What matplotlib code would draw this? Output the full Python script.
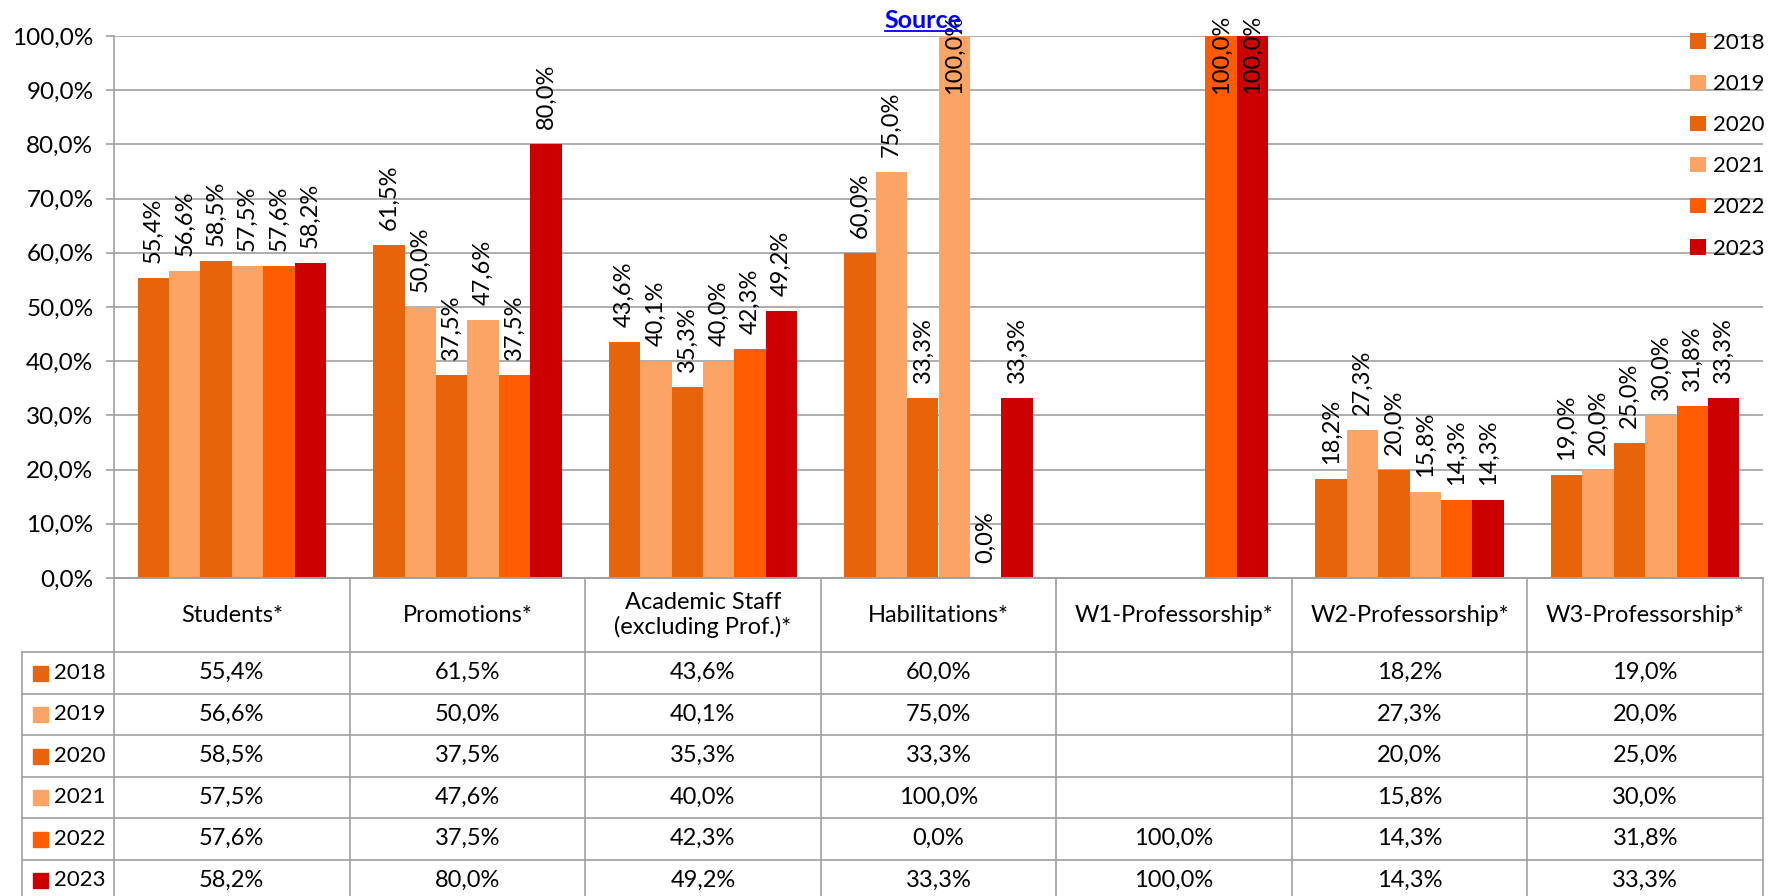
import numpy as np
import matplotlib
matplotlib.use('Agg')
import matplotlib.pyplot as plt
from matplotlib.patches import Patch
from matplotlib.lines import Line2D

plt.rcParams['font.family'] = ['Lato', 'DejaVu Sans']

# ---------------- data ----------------
categories = ['Students*', 'Promotions*', 'Academic Staff\n(excluding Prof.)*',
              'Habilitations*', 'W1-Professorship*', 'W2-Professorship*',
              'W3-Professorship*']
years = ['2018', '2019', '2020', '2021', '2022', '2023']
nan = np.nan
v2018 = [55.4, 61.5, 43.6, 60.0, nan, 18.2, 19.0]
v2019 = [56.6, 50.0, 40.1, 75.0, nan, 27.3, 20.0]
v2020 = [58.5, 37.5, 35.3, 33.3, nan, 20.0, 25.0]
v2021 = [57.5, 47.6, 40.0, 100.0, nan, 15.8, 30.0]
v2022 = [57.6, 37.5, 42.3, 0.0, 100.0, 14.3, 31.8]
v2023 = [58.2, 80.0, 49.2, 33.3, 100.0, 14.3, 33.3]
series = [v2018, v2019, v2020, v2021, v2022, v2023]
colors = ['#E8640A', '#FCA466', '#E8640A', '#FCA466', '#FF5B00', '#CC0000']
yticks = [0, 10, 20, 30, 40, 50, 60, 70, 80, 90, 100]


def fmt(v):
    return f"{v:.1f}".replace('.', ',') + '%'


# ---------------- layout ----------------
W, H = 1771, 896
L, R, T, B = 114, 1763, 36, 578
FS = 17          # texts with % or letters
FSY = 16         # year-only texts
GRID = '#A0A0A0'
fig = plt.figure(figsize=(W / 100, H / 100), dpi=100)
ax = fig.add_axes([L / W, 1 - B / H, (R - L) / W, (B - T) / H])

n_cat = len(categories)
n_ser = len(series)
x = np.arange(n_cat)
bw = 1 / (n_ser + 1.5)

for j, (vals, c) in enumerate(zip(series, colors)):
    xs = x + (j - (n_ser - 1) / 2) * bw
    ax.bar(xs, vals, width=bw, color=c, linewidth=0, zorder=2)
    for xi, v in zip(xs, vals):
        if np.isnan(v):
            continue
        if v >= 100:
            ax.annotate(fmt(v), (xi, v), xytext=(0, -13), textcoords='offset points',
                        rotation=90, ha='center', va='center', fontsize=FS,
                        annotation_clip=False, zorder=3)
        else:
            ax.annotate(fmt(v), (xi, v), xytext=(0, 10.8), textcoords='offset points',
                        rotation=90, ha='center', va='bottom', fontsize=FS,
                        annotation_clip=False, zorder=3)

ax.set_xlim(-0.5, n_cat - 0.5)
ax.set_ylim(0, 100)
ax.set_yticks(yticks)
ax.set_yticklabels([fmt(t) for t in yticks], fontsize=17.5)
ax.set_xticks([])
ax.tick_params(axis='y', direction='out', length=5.8, width=1.2, color=GRID, pad=9)
ax.yaxis.grid(True, color=GRID, linewidth=1.2, zorder=0)
ax.set_axisbelow(True)
for s in ['top', 'right']:
    ax.spines[s].set_visible(False)
for s in ['left', 'bottom']:
    ax.spines[s].set_color(GRID)
    ax.spines[s].set_linewidth(1.2)

# legend
handles = [Patch(facecolor=c, edgecolor='none', label=y) for c, y in zip(colors, years)]
ax.legend(handles=handles, loc='upper left', bbox_to_anchor=(1690 / W, 1 - 33 / H),
          bbox_transform=fig.transFigure, frameon=False, fontsize=FSY,
          handlelength=0.7, handleheight=0.7, handletextpad=0.35,
          labelspacing=0.95, borderpad=0, borderaxespad=0)

# ---------------- data table ----------------
tax = fig.add_axes([L / W, 0, (R - L) / W, (H - B) / H])
row_h = 41.5
hdr = 74 / row_h
tax.set_xlim(-0.5, n_cat - 0.5)
tax.set_ylim((H - B) / row_h, 0)
tax.axis('off')
cat_w = (R - L) / n_cat
xl = -0.5 + (22 - L) / cat_w
ybot = (H - B) / row_h + 0.5

lkw = dict(color=GRID, linewidth=1.2, clip_on=False)
for b in np.arange(n_cat + 1) - 0.5:
    tax.plot([b, b], [0, ybot], **lkw)
tax.plot([xl, xl], [hdr, ybot], **lkw)
tax.plot([-0.5, n_cat - 0.5], [0, 0], **lkw)
for k in range(n_ser):
    tax.plot([xl, n_cat - 0.5], [hdr + k, hdr + k], **lkw)

for i, cat in enumerate(categories):
    tax.text(i, hdr / 2, cat, ha='center', va='center', fontsize=FS, linespacing=1.2)

sq_x = xl + (39.5 - 22) / cat_w
lab_x = xl + (54 - 22) / cat_w
for k, (yr, vals, c) in enumerate(zip(years, series, colors)):
    yc = hdr + k + 0.5
    tax.plot([sq_x], [yc], marker='s', markersize=10.8, color=c, linestyle='none',
             clip_on=False)
    tax.text(lab_x, yc, yr, ha='left', va='center', fontsize=FSY)
    for i, v in enumerate(vals):
        if not np.isnan(v):
            tax.text(i, yc, fmt(v), ha='center', va='center', fontsize=FS)

# ---------------- "Source" link ----------------
src = fig.text(923 / W, 1 - 28 / H, 'Source', ha='center', va='baseline',
               fontsize=18, fontweight='bold', color='#0000FF')
fig.canvas.draw()
bb = src.get_window_extent()
fig.add_artist(Line2D([bb.x0 / W, bb.x1 / W], [1 - 31 / H, 1 - 31 / H],
                      color='#0000FF', linewidth=1.3, transform=fig.transFigure))

fig.savefig('out.png', dpi=100)
